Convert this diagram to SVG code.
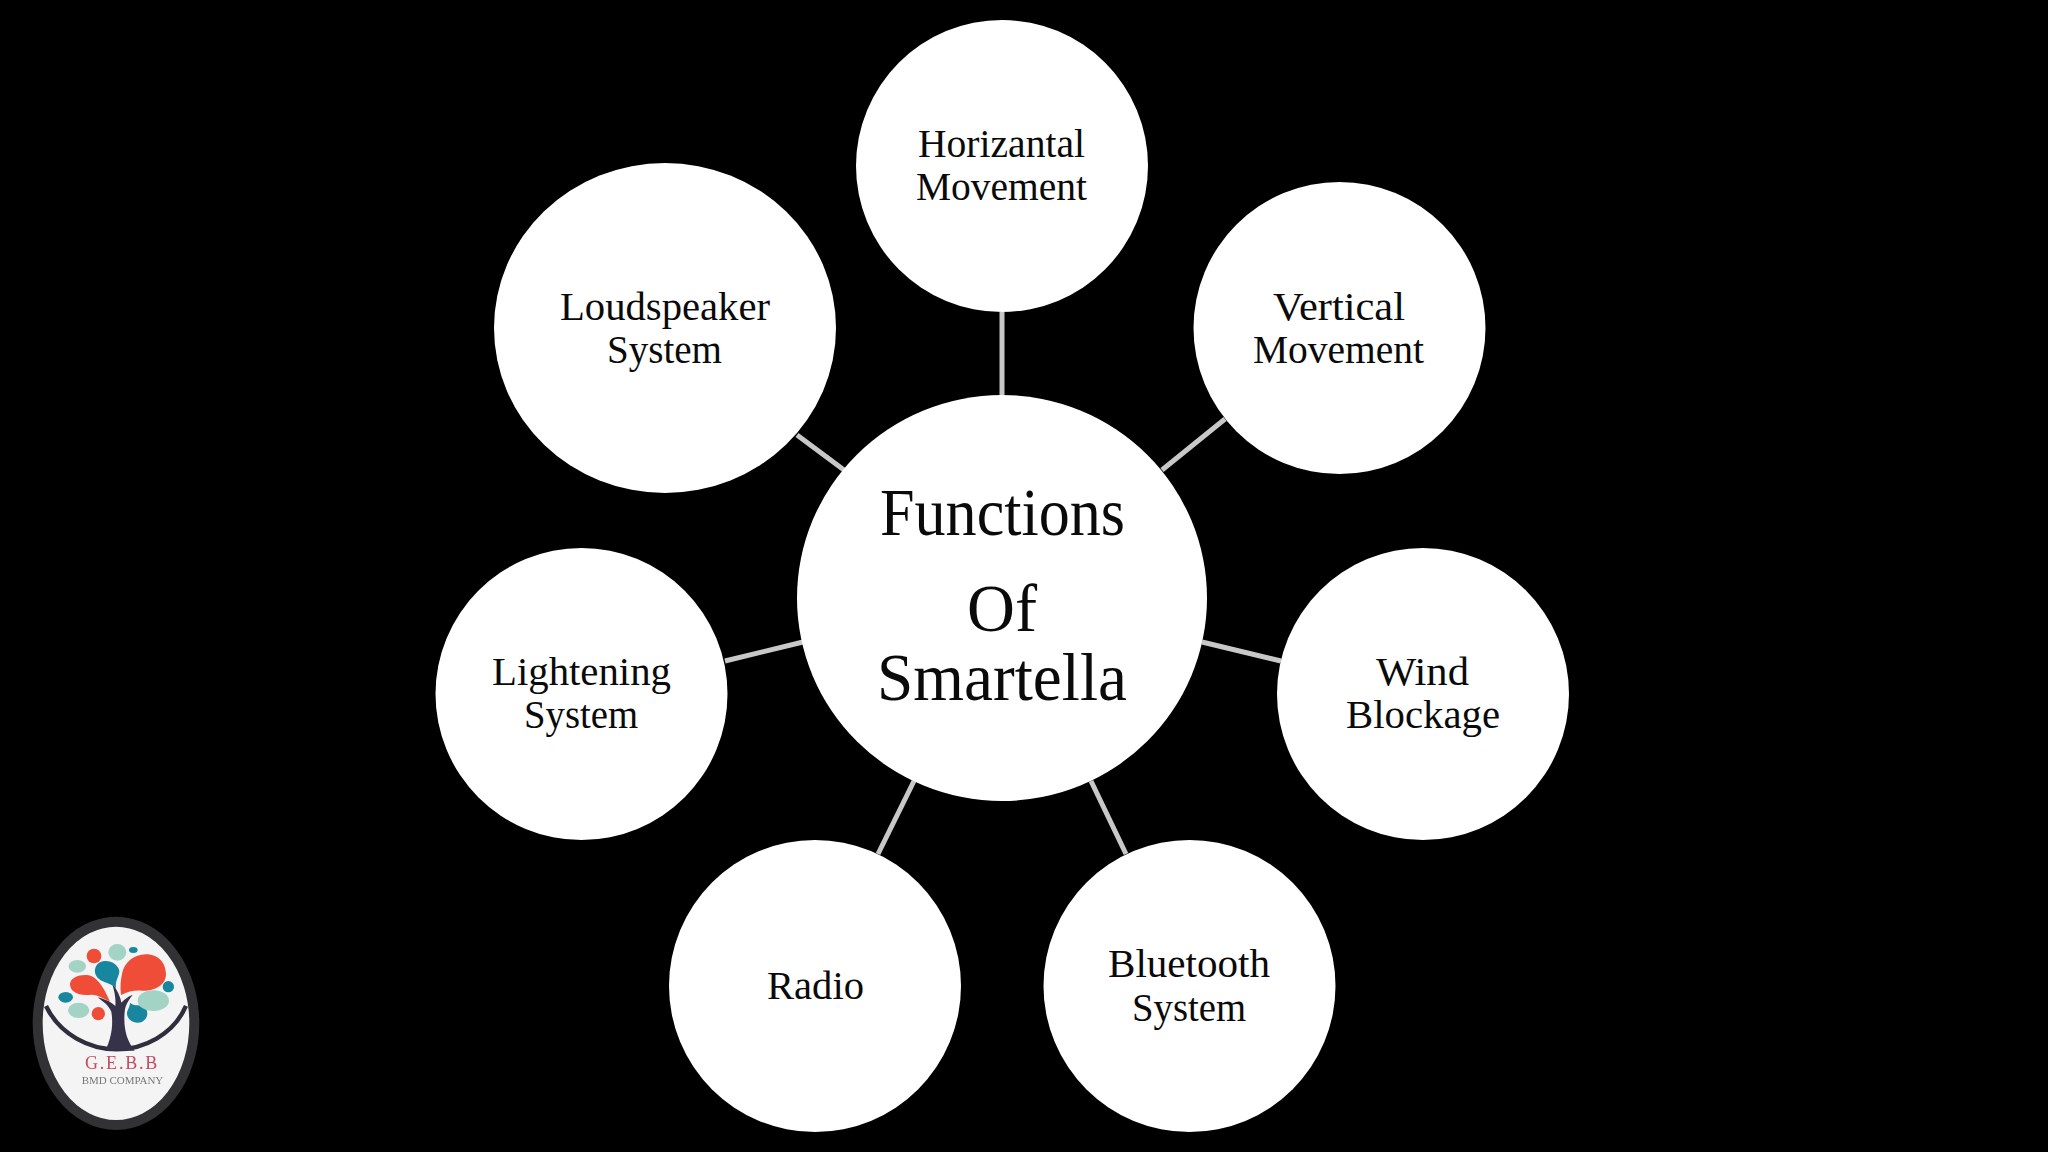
<svg xmlns="http://www.w3.org/2000/svg" width="2048" height="1152" viewBox="0 0 2048 1152">
<style>
.n{fill:#fff}
.t{font-family:"Liberation Serif",serif;font-size:41px;fill:#0a0a0a}
.h{font-family:"Liberation Serif",serif;font-size:68px;fill:#0a0a0a}
.c{stroke:#c8c8c8;stroke-width:5;fill:none}
.r{fill:#ef4d38}.b{fill:#17879e}.m{fill:#a2d3c4}
</style>
<defs><filter id="soft" x="-5%" y="-5%" width="110%" height="110%"><feGaussianBlur stdDeviation="2"/></filter></defs>
<rect width="2048" height="1152" fill="#000"/>
<g id="connectors" class="c">
<line x1="1002" y1="312" x2="1002" y2="395"/>
<line x1="1162" y1="470" x2="1225" y2="419"/>
<line x1="797" y1="435" x2="844" y2="470"/>
<line x1="1202" y1="642" x2="1281" y2="661"/>
<line x1="725" y1="661" x2="803" y2="642"/>
<line x1="914" y1="781" x2="878" y2="854"/>
<line x1="1091" y1="781" x2="1126" y2="854"/>
</g>
<g id="center"><ellipse class="n" cx="1002" cy="598" rx="205" ry="203"/>
<text class="h" x="880" y="535" textLength="245" lengthAdjust="spacingAndGlyphs">Functions</text>
<text class="h" x="967" y="631" textLength="70" lengthAdjust="spacingAndGlyphs">Of</text>
<text class="h" x="877" y="700" textLength="250" lengthAdjust="spacingAndGlyphs">Smartella</text></g>
<g id="horizantal"><circle class="n" cx="1002" cy="166" r="146"/>
<text class="t" x="918" y="157" textLength="167" lengthAdjust="spacingAndGlyphs">Horizantal</text>
<text class="t" x="916" y="200" textLength="171" lengthAdjust="spacingAndGlyphs">Movement</text></g>
<g id="vertical"><circle class="n" cx="1339.500" cy="328" r="146"/>
<text class="t" x="1273" y="320" textLength="132" lengthAdjust="spacingAndGlyphs">Vertical</text>
<text class="t" x="1253" y="363" textLength="171" lengthAdjust="spacingAndGlyphs">Movement</text></g>
<g id="loudspeaker"><ellipse class="n" cx="665" cy="328" rx="171" ry="165"/>
<text class="t" x="560" y="320" textLength="210" lengthAdjust="spacingAndGlyphs">Loudspeaker</text>
<text class="t" x="607" y="363" textLength="115" lengthAdjust="spacingAndGlyphs">System</text></g>
<g id="wind"><circle class="n" cx="1423" cy="694" r="146"/>
<text class="t" x="1376" y="685" textLength="93" lengthAdjust="spacingAndGlyphs">Wind</text>
<text class="t" x="1346" y="728" textLength="154" lengthAdjust="spacingAndGlyphs">Blockage</text></g>
<g id="lightening"><circle class="n" cx="581.500" cy="694" r="146"/>
<text class="t" x="492" y="685" textLength="179" lengthAdjust="spacingAndGlyphs">Lightening</text>
<text class="t" x="524" y="728" textLength="114" lengthAdjust="spacingAndGlyphs">System</text></g>
<g id="radio"><circle class="n" cx="815" cy="986" r="146"/>
<text class="t" x="767" y="999" textLength="97" lengthAdjust="spacingAndGlyphs">Radio</text></g>
<g id="bluetooth"><circle class="n" cx="1189.500" cy="986" r="146"/>
<text class="t" x="1108" y="977" textLength="162" lengthAdjust="spacingAndGlyphs">Bluetooth</text>
<text class="t" x="1132" y="1021" textLength="114" lengthAdjust="spacingAndGlyphs">System</text></g>
<g id="logo" transform="translate(20 900) scale(0.3333)">
<g filter="url(#soft)">
<ellipse cx="288" cy="370" rx="235" ry="305" fill="#f4f4f4" stroke="#303034" stroke-width="30"/>
<path d="M78 318C120 405 210 448 290 448C370 448 460 405 498 318" fill="none" stroke="#2f2f3c" stroke-width="13"/>
<path d="M256 452C276 410 280 370 274 335C265 315 250 305 232 292C258 298 276 308 286 318C288 296 284 275 276 250C292 270 302 292 304 308C314 298 324 290 338 284C326 300 316 315 314 335C310 380 318 420 344 452Z" fill="#35304a"/>
<path class="r" d="M303 285C300 260 302 240 306 222C312 188 342 163 378 163C418 163 438 192 438 222C438 258 400 274 365 272C345 270 325 274 303 285Z"/>
<path class="r" d="M270 304C250 296 235 285 215 284C178 290 150 276 150 253C150 234 175 224 200 225C232 227 252 265 270 304Z"/>
<circle class="r" cx="222" cy="168" r="22"/>
<circle class="r" cx="235" cy="341" r="20"/>
<path class="b" d="M288 264C272 250 250 248 238 238C220 225 220 198 240 187C262 175 294 190 298 212C298 230 285 240 288 264Z"/>
<path class="b" d="M330 308C340 318 355 314 368 318C387 328 387 354 366 366C345 374 323 361 321 342C320 330 330 322 330 308Z"/>
<ellipse class="b" cx="137" cy="292" rx="22" ry="16"/>
<circle class="b" cx="445" cy="260" r="17"/>
<ellipse class="b" cx="340" cy="150" rx="13" ry="9"/>
<ellipse class="m" cx="292" cy="157" rx="27" ry="25"/>
<ellipse class="m" cx="172" cy="199" rx="26" ry="19"/>
<ellipse class="m" cx="176" cy="331" rx="32" ry="23"/>
<ellipse class="m" cx="400" cy="302" rx="47" ry="31"/>
</g>
<text x="195" y="508" font-family="Liberation Serif,serif" font-size="54" fill="#c64a62" textLength="217" lengthAdjust="spacing" filter="url(#soft)">G.E.B.B</text>
<text x="185" y="551" font-family="Liberation Serif,serif" font-size="29" fill="#777" textLength="245" lengthAdjust="spacingAndGlyphs" filter="url(#soft)">BMD COMPANY</text>
</g>
</svg>
